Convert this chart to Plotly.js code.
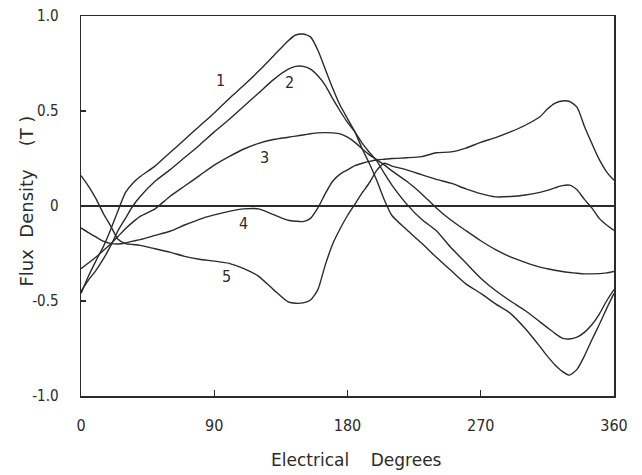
<!DOCTYPE html>
<html>
<head>
<meta charset="utf-8">
<script src="https://cdn.plot.ly/plotly-3.0.1.min.js"></script>
<style>html,body{margin:0;padding:0;background:#fff;}#chart{width:642px;height:475px;}</style>
</head>
<body>
<div id="chart"></div>
<script>
// Electrical degrees (shared sample positions)
const degrees = [0,5,10,15,20,25,30,35,40,50,60,70,80,90,100,110,120,130,140,145,150,155,160,165,170,175,180,185,190,195,200,205,210,220,230,240,250,260,270,280,290,300,310,315,320,325,330,335,340,345,350,355,360];

// Flux density (T) for each curve
const curve1 = [-0.46,-0.37,-0.29,-0.215,-0.125,-0.025,0.07,0.12,0.155,0.21,0.28,0.35,0.42,0.49,0.565,0.635,0.71,0.79,0.87,0.9,0.905,0.89,0.82,0.72,0.62,0.53,0.46,0.39,0.30,0.22,0.13,0.03,-0.05,-0.125,-0.195,-0.27,-0.34,-0.41,-0.46,-0.515,-0.565,-0.645,-0.74,-0.79,-0.835,-0.87,-0.89,-0.86,-0.79,-0.705,-0.625,-0.54,-0.46];
const curve2 = [-0.45,-0.39,-0.34,-0.28,-0.21,-0.13,-0.065,0.0,0.05,0.13,0.19,0.255,0.32,0.39,0.455,0.525,0.595,0.665,0.72,0.735,0.735,0.72,0.685,0.635,0.565,0.5,0.44,0.39,0.33,0.28,0.235,0.17,0.11,0.01,-0.07,-0.13,-0.22,-0.3,-0.38,-0.445,-0.5,-0.55,-0.61,-0.64,-0.67,-0.695,-0.70,-0.69,-0.665,-0.625,-0.57,-0.5,-0.44];
const curve3 = [-0.33,-0.3,-0.27,-0.235,-0.2,-0.16,-0.12,-0.085,-0.055,-0.015,0.05,0.105,0.16,0.215,0.26,0.3,0.33,0.35,0.362,0.368,0.374,0.38,0.385,0.386,0.385,0.38,0.362,0.335,0.3,0.268,0.243,0.215,0.185,0.13,0.065,-0.01,-0.075,-0.13,-0.183,-0.23,-0.268,-0.297,-0.322,-0.33,-0.338,-0.345,-0.35,-0.354,-0.357,-0.357,-0.356,-0.352,-0.345];
const curve4 = [-0.115,-0.14,-0.163,-0.185,-0.197,-0.2,-0.195,-0.185,-0.177,-0.155,-0.133,-0.1,-0.07,-0.047,-0.028,-0.015,-0.015,-0.045,-0.075,-0.08,-0.082,-0.065,-0.01,0.065,0.13,0.168,0.19,0.212,0.225,0.235,0.242,0.246,0.25,0.254,0.26,0.28,0.285,0.305,0.335,0.36,0.39,0.425,0.47,0.51,0.54,0.553,0.55,0.52,0.42,0.33,0.245,0.18,0.135];
const curve5 = [0.16,0.105,0.04,-0.038,-0.105,-0.175,-0.198,-0.203,-0.207,-0.225,-0.243,-0.265,-0.28,-0.29,-0.302,-0.33,-0.37,-0.44,-0.505,-0.512,-0.51,-0.495,-0.44,-0.31,-0.2,-0.12,-0.05,0.01,0.07,0.125,0.19,0.225,0.21,0.19,0.165,0.14,0.12,0.09,0.065,0.048,0.05,0.058,0.072,0.082,0.095,0.107,0.11,0.085,0.035,-0.01,-0.065,-0.1,-0.128];

const curveNames = ['1','2','3','4','5'];
const curves = [curve1, curve2, curve3, curve4, curve5];

// Tick labels
const xTickVals = [0,90,180,270,360];
const xTickText = ['0','90','180','270','360'];
const yTickVals = [-1,-0.5,0,0.5,1];
const yTickText = ['-1.0','-0.5','0','0.5','1.0'];

const FONT = '"DejaVu Sans Condensed", "DejaVu Sans", sans-serif';
const TFONT = '"DejaVu Sans", sans-serif';
const INK = '#2b2b2b';

const traces = curves.map((c, i) => ({
  x: degrees, y: c, type: 'scatter', mode: 'lines', name: curveNames[i],
  line: {color: INK, width: 1.4, shape: 'spline', smoothing: 0.6},
  hoverinfo: 'skip'
}));

const labelPos = [[94,0.66],[141,0.65],[124,0.255],[110,-0.09],[98.5,-0.37]];
const annotations = curveNames.map((n, i) => ({
  x: labelPos[i][0], y: labelPos[i][1], xref: 'x', yref: 'y', text: n,
  showarrow: false, font: {family: FONT, size: 16, color: INK}
}));
annotations.push({
  xref: 'paper', yref: 'paper', x: 0.516, y: -0.168, xanchor: 'center', yanchor: 'middle',
  text: 'Electrical\u00a0\u00a0\u00a0 Degrees', showarrow: false,
  font: {family: TFONT, size: 17, color: INK}
});
annotations.push({
  xref: 'paper', yref: 'paper', x: -0.103, y: 0.512, xanchor: 'center', yanchor: 'middle',
  text: 'Flux\u00a0 Density\u00a0\u00a0\u00a0\u00a0(T )', textangle: -90, showarrow: false,
  font: {family: TFONT, size: 18, color: INK}
});

const layout = {
  width: 642, height: 475,
  margin: {l: 81, r: 28, t: 16, b: 79},
  paper_bgcolor: '#fff', plot_bgcolor: '#fff',
  showlegend: false,
  xaxis: {
    range: [0, 360], tickvals: xTickVals, ticktext: xTickText,
    ticks: 'inside', ticklen: 6, tickwidth: 1.4, tickcolor: INK,
    showline: true, mirror: true, linecolor: INK, linewidth: 1.5,
    showgrid: false, zeroline: false, ticklabelstandoff: 14,
    tickfont: {family: FONT, size: 16, color: INK}
  },
  yaxis: {
    range: [-1, 1], tickvals: yTickVals, ticktext: yTickText,
    ticks: 'inside', ticklen: 5, tickwidth: 1.4, tickcolor: INK,
    showline: true, mirror: true, linecolor: INK, linewidth: 1.5,
    showgrid: false, zeroline: true, zerolinecolor: INK, zerolinewidth: 1.5,
    ticklabelstandoff: 18,
    tickfont: {family: FONT, size: 15, color: INK}
  },
  annotations: annotations
};

Plotly.newPlot('chart', traces, layout, {staticPlot: true, displayModeBar: false});
</script>
</body>
</html>
